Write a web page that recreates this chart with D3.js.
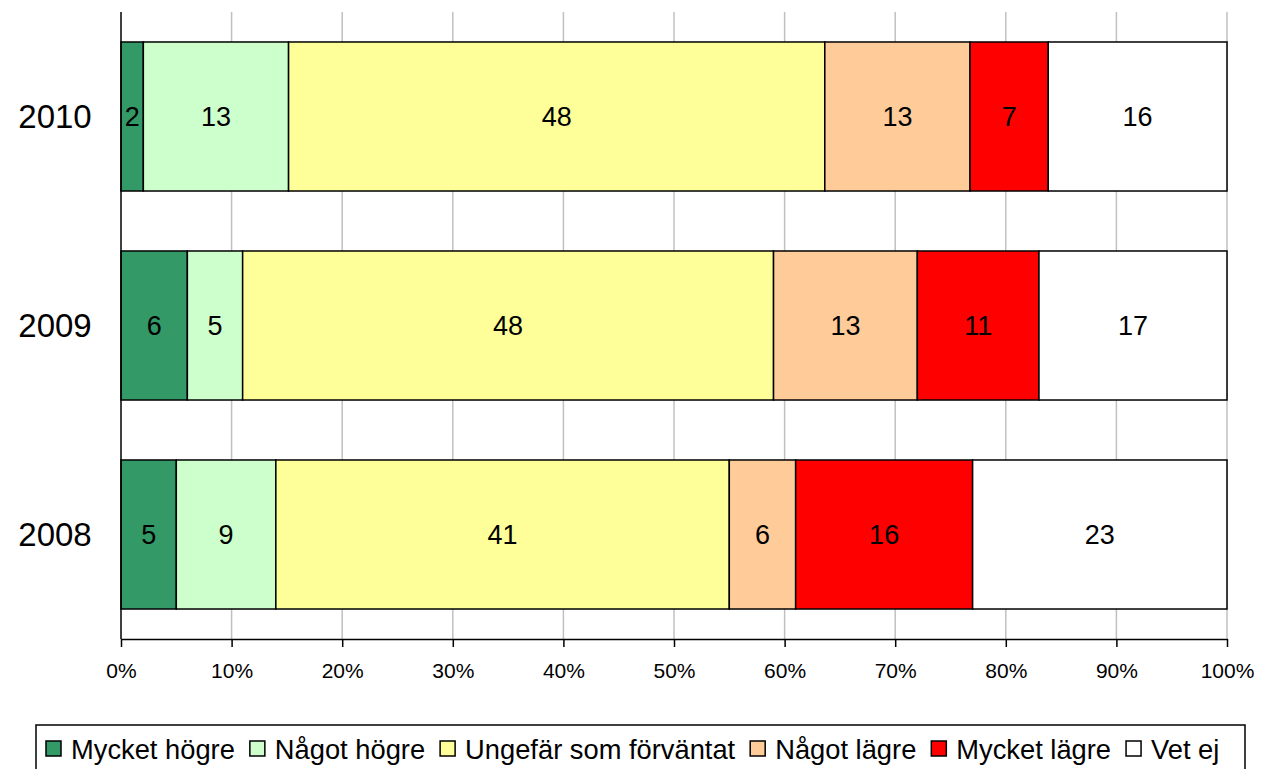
<!DOCTYPE html>
<html><head><meta charset="utf-8">
<script src="https://cdn.jsdelivr.net/npm/d3@7"></script>
<style>body{margin:0;background:#fff}svg{display:block;font-family:"Liberation Sans",Arial,sans-serif}</style>
</head><body><svg id="c" width="1261" height="769"></svg>
<script>
const years = ["2010", "2009", "2008"];
const seriesNames = ["Mycket högre", "Något högre", "Ungefär som förväntat", "Något lägre", "Mycket lägre", "Vet ej"];
const seriesColors = ["#339966", "#CCFFCC", "#FFFF99", "#FFCC99", "#FF0000", "#FFFFFF"];
const values2010 = [2, 13, 48, 13, 7, 16];
const values2009 = [6, 5, 48, 13, 11, 17];
const values2008 = [5, 9, 41, 6, 16, 23];
const xTicks = [0, 0.1, 0.2, 0.3, 0.4, 0.5, 0.6, 0.7, 0.8, 0.9, 1];

const rows = [values2010, values2009, values2008];
const svg = d3.select("#c");
const L = 121, R = 1227, T = 12, B = 639;
const x = d3.scaleLinear().domain([0, 1]).range([L, R]);
const y = d3.scaleBand().domain(years).range([T, B]).paddingInner(0.287).paddingOuter(0.1435);

// gridlines
svg.append("g").selectAll("line").data(xTicks.slice(1)).join("line")
  .attr("x1", d => x(d)).attr("x2", d => x(d)).attr("y1", T).attr("y2", B)
  .attr("stroke", "#c0c0c0").attr("stroke-width", 1.5);

// bars
years.forEach((yr, i) => {
  const vals = rows[i];
  const tot = d3.sum(vals);
  let cum = 0;
  const segs = vals.map((v, j) => { const s = {v, j, a: cum / tot, b: (cum + v) / tot}; cum += v; return s; });
  const g = svg.append("g");
  g.selectAll("rect").data(segs).join("rect")
    .attr("x", d => x(d.a)).attr("width", d => x(d.b) - x(d.a))
    .attr("y", y(yr)).attr("height", y.bandwidth())
    .attr("fill", d => seriesColors[d.j]).attr("stroke", "#000").attr("stroke-width", 1.5);
  g.selectAll("text").data(segs).join("text")
    .attr("x", d => (x(d.a) + x(d.b)) / 2).attr("y", y(yr) + y.bandwidth() / 2)
    .attr("text-anchor", "middle").attr("dominant-baseline", "central")
    .attr("font-size", 27).attr("fill", "#000").text(d => d.v);
  svg.append("text").attr("x", 55).attr("y", y(yr) + y.bandwidth() / 2)
    .attr("text-anchor", "middle").attr("dominant-baseline", "central")
    .attr("font-size", 33).text(yr);
});

// axes
const xAxis = d3.axisBottom(x).tickValues(xTicks).tickFormat(d3.format(".0%")).tickSize(8).tickSizeOuter(0);
const ax = svg.append("g").attr("transform", `translate(0,${B})`).call(xAxis);
ax.select(".domain").attr("stroke", "#000").attr("stroke-width", 1.5);
ax.selectAll(".tick line").attr("stroke", "#000").attr("stroke-width", 1.5);
ax.selectAll(".tick text").attr("font-size", 21).attr("font-family", "Liberation Sans, Arial, sans-serif").attr("fill", "#000").attr("dy", "1.35em");
svg.append("line").attr("x1", L).attr("x2", L).attr("y1", T).attr("y2", B).attr("stroke", "#000").attr("stroke-width", 1.5);

// legend
const lg = svg.append("g");
lg.append("rect").attr("x", 36).attr("y", 725).attr("width", 1209).attr("height", 80)
  .attr("fill", "#fff").attr("stroke", "#000").attr("stroke-width", 1.5);
let lx = 46;
seriesNames.forEach((n, j) => {
  lg.append("rect").attr("x", lx).attr("y", 741).attr("width", 15).attr("height", 15)
    .attr("fill", seriesColors[j]).attr("stroke", "#000").attr("stroke-width", 1.5);
  const t = lg.append("text").attr("x", lx + 25).attr("y", 759).attr("font-size", 27.3).text(n);
  lx += 25 + t.node().getComputedTextLength() + 15;
});
</script></body></html>
